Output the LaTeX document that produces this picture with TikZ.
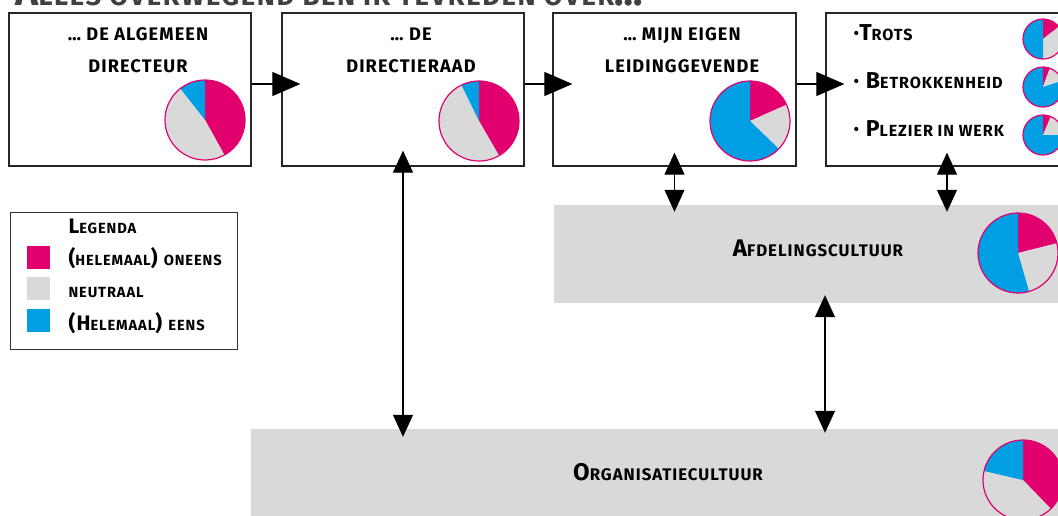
\documentclass[tikz,border=0pt]{standalone}
\usepackage{fontspec}
\setmainfont{Fira Sans}[LetterSpace=6]
\usetikzlibrary{arrows.meta,calc}
\definecolor{cmag}{HTML}{E2006E}
\definecolor{cgry}{HTML}{D9D9D9}
\definecolor{cblu}{HTML}{009FE3}
\makeatletter
\newcommand\lc[1]{{\@tempdima=\f@size pt\relax\@tempdima=0.7\@tempdima\fontsize{\strip@pt\@tempdima}{\strip@pt\@tempdima}\selectfont\MakeUppercase{#1}}}
\makeatother
\newcommand\fs[1]{\fontsize{#1}{#1}\selectfont\bfseries}
\newcommand\pie[4]{%
  \fill[cmag] (#1) -- ++(90:#2) arc[start angle=90,end angle=#3,radius=#2] -- cycle;
  \fill[cgry] (#1) -- ++(#3:#2) arc[start angle=#3,end angle=#4,radius=#2] -- cycle;
  \fill[cblu] (#1) -- ++(#4:#2) arc[start angle=#4,end angle=-270,radius=#2] -- cycle;
  \draw[cmag,line width=1.2pt] (#1) circle[radius=#2];}
\tikzset{
  box/.style={draw=black!85,line width=1.3pt,fill=white,inner sep=0pt,minimum height=153pt},
  band/.style={fill=cgry,draw=none,inner sep=0pt},
  harrow/.style={line width=1.2pt,-{Triangle[length=28pt,width=24pt]}},
  varrow/.style={line width=1.1pt,{Triangle[length=22pt,width=20pt]}-{Triangle[length=22pt,width=20pt]}},
  sq/.style={minimum size=23pt,inner sep=0pt,draw=none},
  boxtxt/.style={anchor=base,font=\fs{26}},
  itemtxt/.style={anchor=base west,font=\fs{23}},
  legtxt/.style={anchor=base west,font=\fs{21}},
  bandtxt/.style={anchor=base,font=\fs{24}},
}
\begin{document}
\begin{tikzpicture}[x=1pt,y=-1pt]
\useasboundingbox (0,0) rectangle (1058,515);
\clip (0,0) rectangle (1058,515);
% title (cropped at the top edge)
\node[anchor=base west,text=black!75,font=\fs{39}] (title) at (12,5) {A\lc{lles overwegend ben ik tevreden over}…};
% bands
\node[band,minimum width=526pt,minimum height=98pt] (afd) at (817,254) {};
\node[band,minimum width=829pt,minimum height=111pt] (org) at (665.5,484.5) {};
\node[bandtxt] (afdt) at (818,256) {A\lc{fdelingscultuur}};
\node[bandtxt] (orgt) at (668,480) {O\lc{rganisatiecultuur}};
% boxes
\node[box,minimum width=242pt] (b1) at (130,89.5) {};
\node[box,minimum width=242pt] (b2) at (403,89.5) {};
\node[box,minimum width=243pt] (b3) at (674.5,89.5) {};
\node[box,minimum width=254pt] (b4) at (953,89.5) {};
\node[boxtxt] (t1a) at (138,40) {\lc{… de algemeen}};
\node[boxtxt] (t1b) at (138,72) {\lc{directeur}};
\node[boxtxt] (t2a) at (411,40) {\lc{… de}};
\node[boxtxt] (t2b) at (411,72) {\lc{directieraad}};
\node[boxtxt] (t3a) at (682,40) {\lc{… mijn eigen}};
\node[boxtxt] (t3b) at (682,72) {\lc{leidinggevende}};
\node[itemtxt] (i1) at (850,40.5) {·T\lc{rots}};
\node[itemtxt] (i2) at (850,88) {· B\lc{etrokkenheid}};
\node[itemtxt] (i3) at (850,136) {· P\lc{lezier in werk}};
% pies
\coordinate (p1) at (205,120);
\coordinate (p2) at (479,121);
\coordinate (p3) at (750,121);
\coordinate (pa) at (1018,253);
\coordinate (po) at (1023,480);
\coordinate (q1) at (1043,39);
\coordinate (q2) at (1043,87);
\coordinate (q3) at (1043,135);
\pie{p1}{40pt}{-61}{-232}
\pie{p2}{40pt}{-60}{-244}
\pie{p3}{40pt}{24}{-44}
\pie{pa}{40pt}{14}{-74}
\pie{po}{40pt}{-46}{-193}
\pie{q1}{20pt}{38}{-90}
\pie{q2}{20pt}{70}{18}
\pie{q3}{20pt}{67}{0}
% horizontal arrows
\draw[harrow,shorten >=-19pt] ([yshift=5.5pt]b1.east) -- ([yshift=5.5pt]b2.west);
\draw[harrow,shorten >=-20pt] ([yshift=5.5pt]b2.east) -- ([yshift=5.5pt]b3.west);
\draw[harrow,shorten >=-19pt] ([yshift=5.5pt]b3.east) -- ([yshift=5.5pt]b4.west);
% vertical arrows
\coordinate (x947) at (947,0);
\coordinate (x825) at (825,0);
\draw[varrow,shorten <=-16pt,shorten >=-8pt] (b2.south) -- (b2.south |- org.north);
\draw[varrow,shorten <=-14pt,shorten >=-7pt] (b3.south) -- (b3.south |- afd.north);
\draw[varrow,shorten <=-14pt,shorten >=-7pt] (x947 |- b4.south) -- (x947 |- afd.north);
\draw[varrow,shorten <=-8pt,shorten >=-4pt] (x825 |- afd.south) -- (x825 |- org.north);
% legend
\node[draw=black!80,line width=1pt,minimum width=227pt,minimum height=137pt,inner sep=0pt] (leg) at (123.5,280.5) {};
\node[sq,fill=cmag] (s1) at (38.5,257.5) {};
\node[sq,fill=cgry] (s2) at (38.5,288.5) {};
\node[sq,fill=cblu] (s3) at (38.5,320.5) {};
\node[legtxt] (lt) at (65,233) {L\lc{egenda}};
\node[legtxt] (l1) at (65,265.5) {(\lc{helemaal}) \lc{oneens}};
\node[legtxt] (l2) at (65,297.5) {\lc{neutraal}};
\node[legtxt] (l3) at (65,330) {(H\lc{elemaal}) \lc{eens}};
\end{tikzpicture}
\end{document}
